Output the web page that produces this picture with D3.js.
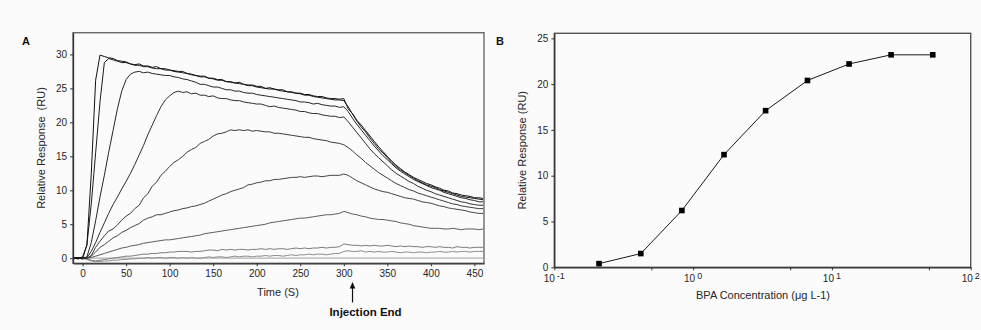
<!DOCTYPE html>
<html><head><meta charset="utf-8">
<script src="https://cdn.jsdelivr.net/npm/d3@7"></script>
<style>
html,body{margin:0;padding:0;background:#fbfbfb;}
svg{display:block;font-family:"Liberation Sans",Arial,sans-serif;}
</style></head><body>
<svg id="chart" width="981" height="330"></svg>
<script>
// ---------- Panel A data (time in s, response in RU) ----------
const timesA = [-10,-5,0,5,10,15,20,25,30,35,
  40,45,50,55,60,65,70,75,80,85,
  90,95,100,105,110,115,120,125,130,135,
  140,145,150,155,160,165,170,175,180,185,
  190,195,200,205,210,215,220,225,230,235,
  240,245,250,255,260,265,270,275,280,285,
  290,295,300,305,310,315,320,325,330,335,
  340,345,350,355,360,365,370,375,380,385,
  390,395,400,405,410,415,420,425,430,435,
  440,445,450,455,460];
const curveA = [0.1,-0.1,0.2,1.9,12.5,26.2,29.9,29.7,29.5,29.4,
  29.1,29.0,28.9,28.6,28.5,28.6,28.3,28.3,28.1,28.2,
  27.9,27.9,27.7,27.6,27.5,27.5,27.2,27.1,26.9,26.8,
  26.8,26.5,26.5,26.3,26.3,26.0,26.0,25.8,25.9,25.6,
  25.5,25.5,25.3,25.3,25.0,25.1,24.9,24.8,24.8,24.5,
  24.5,24.3,24.3,24.1,24.1,23.9,23.8,23.8,23.6,23.5,
  23.5,23.4,23.5,22.0,21.3,20.3,19.6,18.8,18.0,17.2,
  16.4,15.7,15.0,14.3,13.7,13.2,12.7,12.3,11.9,11.6,
  11.3,11.0,10.8,10.5,10.3,10.0,9.9,9.6,9.5,9.3,
  9.2,9.1,8.9,8.9,8.8];
const curveB = [0.0,0.1,-0.1,2.0,8.0,15.5,23.0,28.8,29.4,29.2,
  29.0,28.8,28.8,28.6,28.4,28.4,28.2,28.2,28.0,27.9,
  27.9,27.7,27.7,27.5,27.4,27.3,27.2,27.0,26.9,26.7,
  26.7,26.5,26.4,26.2,26.2,26.0,25.9,25.8,25.7,25.6,
  25.4,25.4,25.2,25.1,25.0,24.9,24.9,24.7,24.6,24.5,
  24.4,24.3,24.2,24.0,24.0,23.8,23.7,23.6,23.5,23.4,
  23.3,23.3,23.2,22.3,21.2,20.2,19.3,18.6,17.7,16.9,
  16.1,15.5,14.8,14.1,13.5,13.0,12.6,12.2,11.8,11.4,
  11.1,10.8,10.6,10.4,10.1,9.9,9.7,9.5,9.3,9.1,
  9.0,8.9,8.8,8.7,8.6];
const curveC = [0.0,0.1,0.0,0.2,2.3,5.5,9.0,12.2,15.6,18.8,
  22.0,24.6,26.3,27.1,27.4,27.5,27.3,27.4,27.2,27.1,
  27.0,26.9,26.9,26.7,26.6,26.4,26.3,26.1,25.9,25.6,
  25.6,25.4,25.2,25.2,25.0,24.8,24.8,24.6,24.6,24.4,
  24.3,24.3,24.1,24.0,23.9,23.8,23.7,23.6,23.5,23.4,
  23.3,23.2,23.0,23.0,22.9,22.7,22.8,22.6,22.5,22.4,
  22.4,22.2,22.3,21.6,20.6,19.7,18.9,18.1,17.3,16.5,
  15.8,15.1,14.5,13.9,13.3,12.8,12.4,12.0,11.6,11.3,
  11.0,10.7,10.4,10.2,10.0,9.7,9.5,9.3,9.1,8.9,
  8.8,8.6,8.5,8.3,8.3];
const curveD = [0.1,0.0,-0.1,0.1,1.0,2.3,3.8,5.2,6.6,7.9,
  9.0,10.2,11.3,12.5,13.8,15.2,16.6,18.2,19.6,21.0,
  22.3,23.3,23.9,24.4,24.6,24.4,24.5,24.2,24.3,24.0,
  24.0,23.8,23.9,23.6,23.5,23.5,23.3,23.2,23.2,23.0,
  22.9,22.8,22.7,22.7,22.5,22.3,22.4,22.2,22.1,22.0,
  21.9,21.8,21.6,21.6,21.4,21.3,21.3,21.1,21.0,20.9,
  20.9,20.7,20.8,20.1,19.3,18.5,17.7,16.9,16.1,15.4,
  14.8,14.2,13.6,13.0,12.5,12.1,11.7,11.3,11.0,10.6,
  10.3,10.0,9.8,9.5,9.3,9.1,8.9,8.7,8.5,8.3,
  8.2,8.0,7.9,7.8,7.8];
const curveE = [-0.1,0.1,0.0,0.0,0.4,1.6,2.5,3.3,4.0,4.3,
  4.9,5.6,6.2,6.6,7.3,7.8,8.9,9.5,10.6,11.2,
  12.2,12.8,13.5,14.1,14.5,15.0,15.6,16.0,16.3,16.9,
  17.2,17.5,18.0,18.3,18.4,18.6,18.9,18.8,18.9,18.8,
  18.9,18.7,18.8,18.7,18.6,18.6,18.4,18.4,18.3,18.2,
  18.1,18.0,17.9,17.8,17.8,17.6,17.5,17.4,17.3,17.1,
  17.0,16.9,16.7,16.3,15.8,15.2,14.7,14.1,13.6,13.1,
  12.6,12.2,11.8,11.4,11.0,10.7,10.4,10.1,9.9,9.6,
  9.4,9.2,9.0,8.8,8.6,8.4,8.2,8.0,7.9,7.7,
  7.6,7.5,7.4,7.3,7.3];
const curveF = [0.0,-0.1,0.1,0.0,0.3,0.9,1.6,2.0,2.5,3.0,
  3.3,3.8,4.1,4.5,4.8,5.1,5.6,5.9,6.1,6.4,
  6.4,6.6,6.8,7.0,7.1,7.3,7.4,7.6,7.7,7.9,
  8.1,8.4,8.7,9.0,9.3,9.5,9.8,10.0,10.2,10.4,
  10.8,10.9,11.1,11.2,11.4,11.4,11.6,11.6,11.7,11.8,
  11.9,11.9,12.0,11.9,12.0,12.1,12.1,12.0,12.1,12.2,
  12.2,12.2,12.4,12.2,11.8,11.4,11.1,10.8,10.5,10.2,
  10.0,9.8,9.7,9.5,9.3,9.1,8.9,8.8,8.7,8.5,
  8.3,8.2,8.1,7.9,7.7,7.6,7.4,7.3,7.2,7.1,
  7.0,6.8,6.7,6.6,6.6];
const curveG = [0.0,0.1,-0.1,0.0,0.1,0.3,0.5,0.7,0.9,1.1,
  1.3,1.5,1.6,1.8,1.9,2.0,2.2,2.3,2.4,2.5,
  2.6,2.7,2.7,2.8,2.9,3.0,3.1,3.2,3.3,3.4,
  3.6,3.7,3.8,3.9,4.0,4.1,4.2,4.3,4.4,4.5,
  4.6,4.7,4.8,4.9,5.0,5.2,5.3,5.4,5.5,5.6,
  5.7,5.8,5.9,5.9,6.0,6.1,6.2,6.3,6.4,6.4,
  6.5,6.6,6.9,6.7,6.5,6.4,6.2,6.1,5.9,5.8,
  5.7,5.7,5.6,5.5,5.4,5.2,5.1,5.0,4.8,4.7,
  4.6,4.5,4.4,4.4,4.4,4.3,4.3,4.4,4.3,4.2,
  4.3,4.3,4.3,4.2,4.3];
const curveH = [0.1,0.0,0.0,-0.1,-0.3,-0.4,-0.3,-0.2,-0.1,0.0,
  0.1,0.2,0.3,0.3,0.4,0.5,0.6,0.6,0.7,0.7,
  0.8,0.8,0.9,0.9,1.0,1.0,1.0,0.9,1.0,1.0,
  1.1,1.2,1.2,1.1,1.3,1.2,1.3,1.2,1.3,1.3,
  1.2,1.3,1.3,1.4,1.3,1.4,1.3,1.4,1.4,1.3,
  1.4,1.5,1.4,1.5,1.4,1.5,1.5,1.6,1.5,1.6,
  1.6,1.7,2.1,2.0,1.9,1.9,1.8,1.9,1.8,1.9,
  1.8,1.8,1.9,1.8,1.7,1.8,1.7,1.8,1.7,1.7,
  1.6,1.7,1.7,1.6,1.7,1.6,1.6,1.5,1.7,1.6,
  1.6,1.5,1.6,1.6,1.6];
const curveI = [0.0,0.1,0.0,-0.2,-0.4,-0.5,-0.5,-0.4,-0.4,-0.3,
  -0.3,-0.2,-0.2,-0.1,-0.1,0.0,0.0,0.1,0.0,0.1,
  0.1,0.0,0.1,0.1,0.0,0.1,0.0,0.1,0.0,0.0,
  0.1,0.2,0.1,0.2,0.2,0.1,0.2,0.3,0.2,0.3,
  0.3,0.2,0.3,0.3,0.4,0.3,0.4,0.4,0.3,0.4,
  0.5,0.4,0.5,0.5,0.6,0.5,0.6,0.6,0.5,0.6,
  0.7,0.7,1.0,1.1,1.0,1.0,1.1,0.9,1.0,0.9,
  1.0,0.9,0.9,1.0,0.9,0.8,0.9,0.9,0.8,0.9,
  0.9,0.8,0.9,0.9,1.0,0.9,0.9,1.0,0.9,1.0,
  1.0,0.9,1.0,1.0,1.0];
const baselineTimes = [-10, 460];
const baselineValues = [0, 0];
const curveColors = ["#111","#1c1c1c","#262626","#2e2e2e","#3a3a3a","#444","#5c5c5c","#7a7a7a","#8c8c8c"];
const xTicksA = [0,50,100,150,200,250,300,350,400,450];
const yTicksA = [0,5,10,15,20,25,30];
const injectionEnd = 310;

// ---------- Panel B data ----------
const concB = [0.21, 0.42, 0.83, 1.67, 3.33, 6.67, 13.3, 26.7, 53.3];
const respB = [0.4, 1.5, 6.2, 12.3, 17.1, 20.4, 22.2, 23.2, 23.2];
const yTicksB = [0,5,10,15,20,25];
const xMajorExpB = [-1,0,1,2];
const xTicksB = [0.1,0.5,1,5,10,50,100];

const svg = d3.select("#chart");
const ink = "#262626";

function styleAxis(g){
  g.selectAll(".domain").attr("stroke", "#333").attr("stroke-width", 1.3);
  g.selectAll(".tick line").attr("stroke", "#333");
  g.selectAll(".tick text").attr("fill", ink).attr("font-size", 10)
    .attr("font-family", '"Liberation Sans",Arial,sans-serif');
}

// ================= Panel A =================
const A = {l:73, r:484, t:32.7, b:263.3};
const xA = d3.scaleLinear().domain([-11, 461]).range([A.l, A.r]);
const yA = d3.scaleLinear().domain([-0.75, 33.2]).range([A.b, A.t]);

svg.append("rect").attr("x", A.l).attr("y", A.t).attr("width", A.r-A.l).attr("height", A.b-A.t)
  .attr("fill", "#fbfbfb").attr("stroke", "#6a6a6a").attr("stroke-width", 1.4);

svg.append("clipPath").attr("id","clipA").append("rect")
  .attr("x", A.l).attr("y", A.t).attr("width", A.r-A.l).attr("height", A.b-A.t);

const lineA = d3.line().x(d => xA(d[0])).y(d => yA(d[1]));
const gCurves = svg.append("g").attr("clip-path","url(#clipA)");
gCurves.append("path")
  .attr("d", lineA(baselineTimes.map((t,i)=>[t, baselineValues[i]])))
  .attr("fill","none").attr("stroke","#b4b4b4").attr("stroke-width",1.2);
const curves = [curveI, curveH, curveG, curveF, curveE, curveD, curveC, curveB, curveA];
const cols = curveColors.slice().reverse();
curves.forEach((c, k) => {
  gCurves.append("path")
    .attr("d", lineA(timesA.map((t,i)=>[t, c[i]])))
    .attr("fill","none").attr("stroke", cols[k]).attr("stroke-width", 1)
    .attr("stroke-linejoin","round");
});

const axA_x = svg.append("g").attr("transform", `translate(0,${A.b})`)
  .call(d3.axisBottom(xA).tickValues(xTicksA).tickSize(3).tickPadding(4).tickSizeOuter(0));
styleAxis(axA_x);
const axA_y = svg.append("g").attr("transform", `translate(${A.l},0)`)
  .call(d3.axisLeft(yA).tickValues(yTicksA).tickSize(3).tickPadding(3).tickSizeOuter(0));
styleAxis(axA_y);

svg.append("text").attr("x", 26).attr("y", 44.5).attr("text-anchor","middle")
  .attr("font-weight","bold").attr("font-size", 11).attr("fill", "#111").text("A");
svg.append("text").attr("transform", `translate(44.5,${(A.t+A.b)/2}) rotate(-90)`)
  .attr("text-anchor","middle").attr("font-size", 11).attr("fill", ink)
  .text("Relative Response\u00a0 (RU)");
svg.append("text").attr("x", 278).attr("y", 296).attr("text-anchor","middle")
  .attr("font-size", 11).attr("fill", ink).text("Time (S)");

// arrow for injection end
const ax = xA(injectionEnd);
svg.append("line").attr("x1", ax).attr("x2", ax).attr("y1", 286).attr("y2", 302.5)
  .attr("stroke", "#111").attr("stroke-width", 1.2);
svg.append("path").attr("d", `M${ax},282 L${ax-2.8},288.5 L${ax+2.8},288.5 Z`).attr("fill","#111");
svg.append("text").attr("x", ax + 13).attr("y", 315.5).attr("text-anchor","middle")
  .attr("font-weight","bold").attr("font-size", 11.5).attr("fill","#111").text("Injection End");

// ================= Panel B =================
const B = {l:554.3, r:970.7, t:33.3, b:267.3};
const xB = d3.scaleLog().domain([0.1, 100]).range([B.l, B.r]);
const yB = d3.scaleLinear().domain([0, 25.55]).range([B.b, B.t]);

svg.append("rect").attr("x", B.l).attr("y", B.t).attr("width", B.r-B.l).attr("height", B.b-B.t)
  .attr("fill", "#fbfbfb").attr("stroke", "#555").attr("stroke-width", 1.4);

const axB_x = svg.append("g").attr("transform", `translate(0,${B.b})`)
  .call(d3.axisBottom(xB).tickValues(xTicksB).tickFormat("").tickSize(3).tickSizeOuter(0));
styleAxis(axB_x);
const axB_y = svg.append("g").attr("transform", `translate(${B.l},0)`)
  .call(d3.axisLeft(yB).tickValues(yTicksB).tickSize(3).tickPadding(3).tickSizeOuter(0));
styleAxis(axB_y);

xMajorExpB.forEach(e => {
  const t = svg.append("text").attr("x", xB(Math.pow(10, e))).attr("y", 281.5)
    .attr("text-anchor","middle").attr("font-size", 10).attr("fill", ink);
  t.append("tspan").text("10");
  t.append("tspan").attr("dx", 2).attr("dy", -3).attr("font-size", 9).text(String(e));
});

const lineB = d3.line().x(d => xB(d[0])).y(d => yB(d[1]));
const ptsB = concB.map((c,i)=>[c, respB[i]]);
svg.append("path").attr("d", lineB(ptsB)).attr("fill","none").attr("stroke","#1a1a1a").attr("stroke-width",1);
svg.append("g").selectAll("rect").data(ptsB).join("rect")
  .attr("x", d => xB(d[0]) - 2.8).attr("y", d => yB(d[1]) - 2.8)
  .attr("width", 5.6).attr("height", 5.6).attr("fill", "#000");

svg.append("text").attr("x", 500).attr("y", 44.5).attr("text-anchor","middle")
  .attr("font-weight","bold").attr("font-size", 11).attr("fill", "#111").text("B");
svg.append("text").attr("transform", `translate(526,${(B.t+B.b)/2}) rotate(-90)`)
  .attr("text-anchor","middle").attr("font-size", 11).attr("fill", ink)
  .text("Relative Response (RU)");
svg.append("text").attr("x", 763).attr("y", 299).attr("text-anchor","middle")
  .attr("font-size", 11).attr("fill", ink).text("BPA Concentration (\u03bcg L-1)");
</script>
</body></html>
